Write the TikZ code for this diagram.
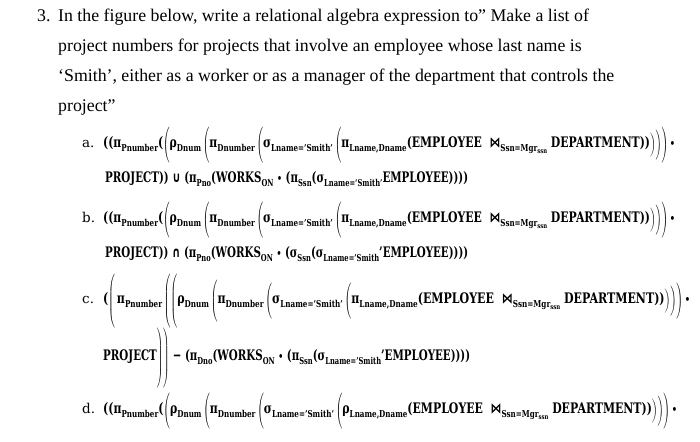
\documentclass[tikz,border=0pt]{standalone}
\usepackage{fontspec}
\usepackage{graphicx}
\setmainfont{Liberation Serif}
\newfontfamily\exf{DejaVu Serif}
\newfontfamily\symf{DejaVu Sans}
\newcommand\xlo[1]{\raisebox{-0.28em}{\fontsize{9.5}{9.5}\selectfont #1}}
\newcommand\xloo[1]{\raisebox{-0.22em}{\fontsize{7}{7}\selectfont #1}}
\newcommand\OPx[1]{\raisebox{-2pt}{$\nulldelimiterspace=0pt\left(\vrule height #1 depth #1 width 0pt\right.$}}
\newcommand\CPx[1]{\raisebox{-2pt}{$\nulldelimiterspace=0pt\left.\vrule height #1 depth #1 width 0pt\right)$}}
\newcommand\jn{{\symf\bfseries ⋈}}
\newcommand\st{{\symf\fontsize{11}{11}\selectfont •}}
\newcommand\tailA{\OPx{15pt}π\xlo{Lname,Dname}(EMPLOYEE\ \ \jn\xlo{Ssn=Mgr\xloo{ssn}}\ DEPARTMENT))\CPx{8pt}\CPx{11pt}\CPx{15pt}\,\st}
\begin{document}
\begin{tikzpicture}[x=1pt,y=-1pt,
  qtext/.style={anchor=base west,inner sep=0pt,font=\fontsize{17.8}{20}\selectfont},
  lbl/.style={anchor=base west,inner sep=0pt,font=\exf\fontsize{13.5}{15}\selectfont},
  expr/.style={anchor=base west,inner sep=0pt,font=\exf\bfseries\fontsize{14.5}{16}\selectfont}]
\fill[white] (0,0) rectangle (700,441);
\useasboundingbox (0,0) rectangle (700,441);
% question
\node[qtext] (qn) at (37,22) {3.};
\node[qtext] (q1) at (58,22) {In the figure below, write a relational algebra expression to” Make a list of};
\node[qtext] (q2) at (58,52) {project numbers for projects that involve an employee whose last name is};
\node[qtext] (q3) at (58,82) {‘Smith’, either as a worker or as a manager of the department that controls the};
\node[qtext] (q4) at (58,111) {project”};
% option a
\node[lbl] (la) at (82,147) {a.};
\node[expr] (ea1) at (103,147) {\resizebox{572pt}{\height}{((π\xlo{Pnumber}(\OPx{15pt}ρ\xlo{Dnum}\,\OPx{15pt}π\xlo{Dnumber}\,\OPx{15pt}σ\xlo{Lname=’Smith’}\,\tailA}};
\node[expr] (ea2) at (105,182) {\resizebox{363pt}{\height}{PROJECT)) {\symf\bfseries ∪} (π\xlo{Pno}(WORKS\xlo{ON} \st\ (π\xlo{Ssn}(σ\xlo{Lname=‘Smith’}EMPLOYEE))))}};
% option b
\node[lbl] (lb) at (82,222) {b.};
\node[expr] (eb1) at (103,222) {\resizebox{572pt}{\height}{((π\xlo{Pnumber}(\OPx{15pt}ρ\xlo{Dnum}\,\OPx{15pt}π\xlo{Dnumber}\,\OPx{15pt}σ\xlo{Lname=’Smith’}\,\tailA}};
\node[expr] (eb2) at (105,257) {\resizebox{363pt}{\height}{PROJECT)) {\symf\bfseries ∩} (π\xlo{Pno}(WORKS\xlo{ON} \st\ (σ\xlo{Ssn}(σ\xlo{Lname=’Smith}’EMPLOYEE))))}};
% option c
\node[lbl] (lc) at (82,303) {c.};
\node[expr] (ec1) at (103,303) {\resizebox{587pt}{\height}{(\OPx{25pt}\,π\xlo{Pnumber}\,\OPx{25pt}\OPx{25pt}ρ\xlo{Dnum}\,\OPx{17pt}π\xlo{Dnumber}\,\OPx{15pt}σ\xlo{Lname=’Smith’}\,\tailA}};
\node[expr] (ec2) at (103,360) {\resizebox{367pt}{\height}{PROJECT\CPx{27pt}\CPx{27pt}\ {\symf\bfseries −} (π\xlo{Dno}(WORKS\xlo{ON} \st\ (π\xlo{Ssn}(σ\xlo{Lname=’Smith}’EMPLOYEE))))}};
% option d
\node[lbl] (ld) at (82,413) {d.};
\node[expr] (ed1) at (103,413) {\resizebox{574pt}{\height}{((π\xlo{Pnumber}(\OPx{15pt}ρ\xlo{Dnum}\,\OPx{15pt}π\xlo{Dnumber}\,\OPx{15pt}σ\xlo{Lname=’Smith’}\,\OPx{15pt}ρ\xlo{Lname,Dname}(EMPLOYEE\ \ \jn\xlo{Ssn=Mgr\xloo{ssn}}\ DEPARTMENT))\CPx{8pt}\CPx{11pt}\CPx{15pt}\,\st}};
\node[expr] (ed2) at (105,453) {\resizebox{362pt}{\height}{PROJECT)) {\symf\bfseries ∪} (π\xlo{Pno}(WORKS\xlo{ON} \st\ (π\xlo{Ssn}(σ\xlo{Lname=’Smith’}EMPLOYEE))))}};
\end{tikzpicture}
\end{document}
